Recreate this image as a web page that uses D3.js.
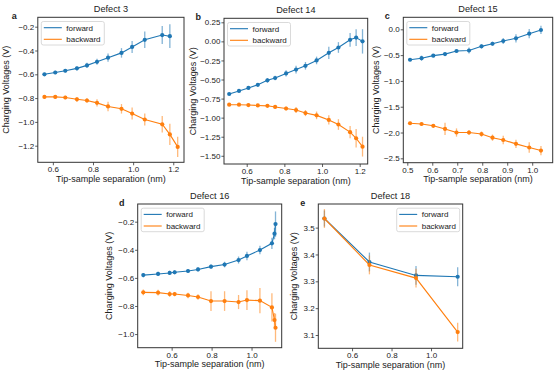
<!DOCTYPE html>
<html>
<head>
<meta charset="utf-8">
<script src="https://cdn.jsdelivr.net/npm/d3@7"></script>
<style>
  body { margin: 0; background: #fff; }
  svg text { font-family: "Liberation Sans", Arial, sans-serif; fill: #222; }
</style>
</head>
<body>
<svg id="fig" width="555" height="373"></svg>
<script>

// data (x in nm, y in V)
const sepA = [0.558, 0.612, 0.662, 0.72, 0.77, 0.82, 0.875, 0.942, 0.995, 1.058, 1.145, 1.183, 1.222];
const fwdA = [-0.60, -0.585, -0.57, -0.55, -0.525, -0.495, -0.46, -0.42, -0.37, -0.31, -0.27, -0.28];
const fwdAErr = [0.012, 0.015, 0.015, 0.018, 0.022, 0.025, 0.035, 0.04, 0.05, 0.07, 0.075, 0.1];
const backA = [-0.79, -0.79, -0.795, -0.81, -0.82, -0.84, -0.87, -0.89, -0.93, -0.98, -1.02, -1.105, -1.21];
const backAErr = [0.015, 0.015, 0.015, 0.02, 0.02, 0.03, 0.04, 0.04, 0.05, 0.05, 0.07, 0.09, 0.085];

const sepB = [0.507, 0.559, 0.609, 0.659, 0.71, 0.751, 0.809, 0.862, 0.912, 0.971, 1.036, 1.087, 1.149, 1.181, 1.215];
const fwdB = [-0.69, -0.65, -0.61, -0.57, -0.51, -0.48, -0.42, -0.37, -0.32, -0.25, -0.15, -0.08, 0.02, 0.05, 0.00];
const fwdBErr = [0.015, 0.02, 0.02, 0.02, 0.03, 0.03, 0.04, 0.05, 0.05, 0.05, 0.08, 0.07, 0.09, 0.11, 0.16];
const backB = [-0.83, -0.83, -0.835, -0.84, -0.845, -0.86, -0.88, -0.90, -0.94, -0.97, -1.03, -1.09, -1.19, -1.27, -1.38];
const backBErr = [0.01, 0.01, 0.01, 0.01, 0.015, 0.02, 0.025, 0.04, 0.04, 0.05, 0.06, 0.07, 0.08, 0.12, 0.13];

const sepC = [0.511, 0.557, 0.604, 0.651, 0.697, 0.747, 0.797, 0.841, 0.884, 0.935, 0.988, 1.035];
const fwdC = [-0.59, -0.56, -0.51, -0.48, -0.42, -0.41, -0.33, -0.28, -0.226, -0.174, -0.084, -0.013];
const fwdCErr = [0.03, 0.05, 0.03, 0.03, 0.03, 0.06, 0.04, 0.04, 0.06, 0.08, 0.09, 0.08];
const backC = [-1.82, -1.835, -1.87, -1.93, -2.0, -2.0, -2.03, -2.10, -2.145, -2.22, -2.29, -2.35];
const backCErr = [0.03, 0.03, 0.03, 0.12, 0.08, 0.05, 0.05, 0.06, 0.08, 0.08, 0.1, 0.09];

const sepD = [0.458, 0.532, 0.59, 0.615, 0.682, 0.732, 0.797, 0.865, 0.935, 0.977, 1.042, 1.102, 1.115, 1.12];
const fwdD = [-0.58, -0.572, -0.565, -0.56, -0.551, -0.54, -0.52, -0.505, -0.473, -0.444, -0.402, -0.354, -0.285, -0.217];
const fwdDErr = [0.015, 0.015, 0.015, 0.015, 0.015, 0.015, 0.015, 0.02, 0.025, 0.03, 0.03, 0.04, 0.04, 0.09];
const backD = [-0.703, -0.705, -0.715, -0.715, -0.725, -0.736, -0.765, -0.765, -0.772, -0.758, -0.762, -0.81, -0.90, -0.955];
const backDErr = [0.02, 0.02, 0.02, 0.015, 0.02, 0.02, 0.07, 0.07, 0.05, 0.07, 0.09, 0.1, 0.05, 0.1];

const sepE = [0.46, 0.688, 0.924, 1.135];
const fwdE = [3.534, 3.372, 3.322, 3.317];
const fwdEErr = [0.03, 0.035, 0.035, 0.035];
const backE = [3.534, 3.361, 3.312, 3.111];
const backEErr = [0.035, 0.035, 0.035, 0.035];

const blue = "#1f77b4";
const orange = "#ff7f0e";

// layout per panel: box = [left, top, right, bottom] in pixels
const panels = [
  {letter: "a", title: "Defect 3", box: [37.8, 17.3, 184, 162.3],
   xDomain: [0.525, 1.2535], yDomain: [-1.3395, -0.121],
   xTicks: [0.6, 0.8, 1.0, 1.2], yTicks: [-1.2, -1.0, -0.8, -0.6, -0.4, -0.2], yFmt: ".1f",
   sep: sepA, fwd: fwdA, fwdErr: fwdAErr, back: backA, backErr: backAErr,
   yLabelX: 5.5, letterX: 14.3, legendRight: false},
  {letter: "b", title: "Defect 14", box: [224, 18.3, 367.7, 164],
   xDomain: [0.4794, 1.2425], yDomain: [-1.6076, 0.3025],
   xTicks: [0.6, 0.8, 1.0, 1.2], yTicks: [-1.5, -1.25, -1.0, -0.75, -0.5, -0.25, 0, 0.25], yFmt: ".2f",
   sep: sepB, fwd: fwdB, fwdErr: fwdBErr, back: backB, backErr: backBErr,
   yLabelX: 192.3, letterX: 198.3, legendRight: false},
  {letter: "c", title: "Defect 15", box: [403.3, 17.3, 552.7, 162.7],
   xDomain: [0.484, 1.082], yDomain: [-2.585, 0.233],
   xTicks: [0.5, 0.6, 0.7, 0.8, 0.9, 1.0], yTicks: [-2.5, -2.0, -1.5, -1.0, -0.5, 0], yFmt: ".1f",
   sep: sepC, fwd: fwdC, fwdErr: fwdCErr, back: backC, backErr: backCErr,
   yLabelX: 376, letterX: 387.3, legendRight: false},
  {letter: "d", title: "Defect 16", box: [137.7, 204, 281.7, 347.7],
   xDomain: [0.43, 1.151], yDomain: [-1.097, -0.074],
   xTicks: [0.6, 0.8, 1.0], yTicks: [-1.0, -0.8, -0.6, -0.4, -0.2], yFmt: ".1f",
   sep: sepD, fwd: fwdD, fwdErr: fwdDErr, back: backD, backErr: backDErr,
   yLabelX: 108.3, letterX: 121.7, legendRight: false},
  {letter: "e", title: "Defect 18", box: [318.3, 204, 462.7, 348.3],
   xDomain: [0.429, 1.1605], yDomain: [3.0505, 3.588],
   xTicks: [0.6, 0.8, 1.0], yTicks: [3.1, 3.2, 3.3, 3.4, 3.5], yFmt: ".1f",
   sep: sepE, fwd: fwdE, fwdErr: fwdEErr, back: backE, backErr: backEErr,
   yLabelX: 293.3, letterX: 302.7, legendRight: true}
];

const svg = d3.select("#fig");

function drawSeries(g, xScale, yScale, xs, ys, errs, color) {
  const pts = ys.map(function(v, i) { return {x: xs[i], y: v, e: errs[i]}; });

  // error bars, a bit lighter than the line
  g.append("g").selectAll("line")
      .data(pts)
      .enter()
      .append("line")
      .attr("x1", function(d) { return xScale(d.x); })
      .attr("x2", function(d) { return xScale(d.x); })
      .attr("y1", function(d) { return yScale(d.y - d.e); })
      .attr("y2", function(d) { return yScale(d.y + d.e); })
      .attr("stroke", color)
      .attr("stroke-opacity", 0.55)
      .attr("stroke-width", 1.3);

  const line = d3.line()
      .x(function(d) { return xScale(d.x); })
      .y(function(d) { return yScale(d.y); });

  g.append("path")
      .datum(pts)
      .attr("d", line)
      .attr("fill", "none")
      .attr("stroke", color)
      .attr("stroke-width", 1.1);

  g.append("g").selectAll("circle")
      .data(pts)
      .enter()
      .append("circle")
      .attr("cx", function(d) { return xScale(d.x); })
      .attr("cy", function(d) { return yScale(d.y); })
      .attr("r", 2.1)
      .attr("fill", color);
}

function drawPanel(p) {
  const [left, top, right, bottom] = p.box;

  const xScale = d3.scaleLinear().domain(p.xDomain).range([left, right]);
  const yScale = d3.scaleLinear().domain(p.yDomain).range([bottom, top]);

  const g = svg.append("g").attr("class", "panel-" + p.letter);

  // x-as
  const xAxis = g.append("g")
      .attr("transform", "translate(0," + bottom + ")")
      .call(d3.axisBottom(xScale).tickValues(p.xTicks).tickFormat(d3.format(".1f"))
        .tickSize(3).tickPadding(1.5));

  // y-as
  const yAxis = g.append("g")
      .attr("transform", "translate(" + left + ",0)")
      .call(d3.axisLeft(yScale).tickValues(p.yTicks).tickFormat(d3.format(p.yFmt))
        .tickSize(2.6).tickPadding(1));

  [xAxis, yAxis].forEach(function(a) {
    a.select(".domain").remove();
    a.selectAll(".tick line").attr("stroke", "#333").attr("stroke-width", 0.8);
    a.selectAll(".tick text").style("font-size", "8px").attr("fill", "#222");
  });

  // data
  drawSeries(g, xScale, yScale, p.sep, p.fwd, p.fwdErr, blue);
  drawSeries(g, xScale, yScale, p.sep, p.back, p.backErr, orange);

  // frame
  g.append("rect")
      .attr("x", left).attr("y", top)
      .attr("width", right - left).attr("height", bottom - top)
      .attr("fill", "none")
      .attr("stroke", "#333")
      .attr("stroke-width", 1);

  // titel, letter en labels
  g.append("text")
      .attr("x", (left + right) / 2).attr("y", top - 5)
      .attr("text-anchor", "middle")
      .style("font-size", "9.2px")
      .text(p.title);

  g.append("text")
      .attr("x", p.letterX).attr("y", top + 1.5)
      .attr("text-anchor", "middle")
      .style("font-size", "9px").style("font-weight", "bold")
      .attr("fill", "#000")
      .text(p.letter);

  g.append("text")
      .attr("x", (left + right) / 2).attr("y", bottom + 19.5)
      .attr("text-anchor", "middle")
      .style("font-size", "9px")
      .text("Tip-sample separation (nm)");

  g.append("text")
      .attr("transform", "translate(" + (p.yLabelX + 3.2) + "," + ((top + bottom) / 2) + ") rotate(-90)")
      .attr("text-anchor", "middle")
      .style("font-size", "9px")
      .text("Charging Voltages (V)");

  // legenda
  const lw = 63, lh = 23.5;
  const lx = p.legendRight ? right - 3 - lw : left + 3.5;
  const ly = top + 4.2;
  const leg = g.append("g").attr("transform", "translate(" + lx + "," + ly + ")");
  leg.append("rect")
      .attr("width", lw).attr("height", lh)
      .attr("rx", 2)
      .attr("fill", "#fff").attr("fill-opacity", 0.8)
      .attr("stroke", "#d0d0d0").attr("stroke-width", 0.8);
  [["forward", blue], ["backward", orange]].forEach(function(item, i) {
    const yy = 6.2 + i * 11.6;
    leg.append("line")
        .attr("x1", 2.5).attr("x2", 20.5)
        .attr("y1", yy).attr("y2", yy)
        .attr("stroke", item[1]).attr("stroke-width", 1.1);
    leg.append("text")
        .attr("x", 25).attr("y", yy + 2.8)
        .style("font-size", "8px")
        .text(item[0]);
  });
}

panels.forEach(drawPanel);

</script>
</body>
</html>
